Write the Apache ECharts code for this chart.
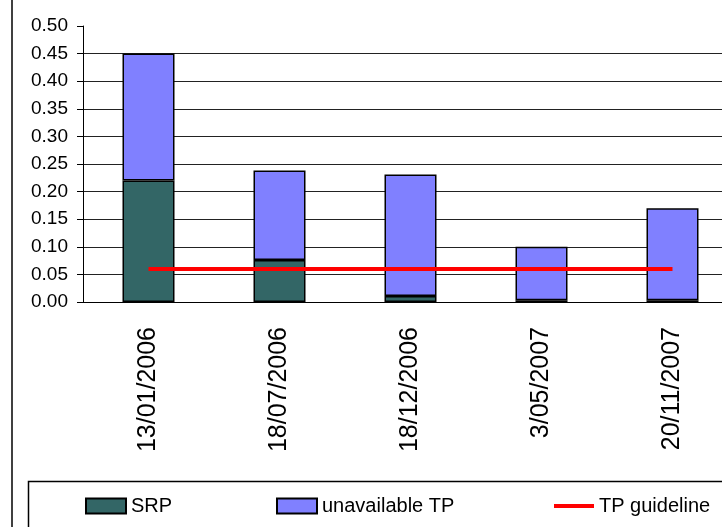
<!DOCTYPE html>
<html>
<head>
    <meta charset="utf-8">
    <title>SRP / TP</title>
    <script src="https://cdn.jsdelivr.net/npm/echarts@6/dist/echarts.min.js"></script>
    <style>
        html, body { margin: 0; padding: 0; background: #fff; }
    </style>
</head>
<body>
    <div id="main" style="width: 722px;height: 527px;"></div>
    <script type="text/javascript">
        // data
        var dates = ['13/01/2006', '18/07/2006', '18/12/2006', '3/05/2007', '20/11/2007'];
        var srp = [0.22, 0.076, 0.011, 0.003, 0.003];
        var unavailableTP = [0.23, 0.162, 0.22, 0.097, 0.167];
        var guideline = [0.06, 0.06, 0.06, 0.06, 0.06];

        var myChart = echarts.init(document.getElementById('main'));
        var font = '"Liberation Sans", Arial, sans-serif';

        // one legend per entry so each sits where the reference puts it
        function legendAt(name, left, icon, h) {
            return {
                left: left,
                top: 491,
                itemWidth: 40,
                itemHeight: h,
                icon: icon,
                textStyle: { fontFamily: font, fontSize: 20, color: '#000' },
                data: [name]
            };
        }

        var option = {
            animation: false,
            backgroundColor: '#fff',
            grid: {
                left: 83,
                top: 26,
                width: 655,
                bottom: 225,
                outerBoundsMode: 'none',
                containLabel: false
            },
            legend: [
                legendAt('SRP', 80, 'rect', 15),
                legendAt('unavailable TP', 271, 'rect', 15),
                legendAt('TP guideline', 549, 'rect', 4)
            ],
            xAxis: {
                type: 'category',
                data: dates,
                axisLine: { lineStyle: { color: '#000', width: 1 } },
                axisTick: { length: 9, lineStyle: { color: '#000' } },
                axisLabel: {
                    rotate: 90,
                    margin: 25,
                    color: '#000',
                    fontFamily: font,
                    fontSize: 25
                }
            },
            yAxis: {
                type: 'value',
                min: 0,
                max: 0.5,
                interval: 0.05,
                axisLine: { show: true, lineStyle: { color: '#000', width: 1 } },
                axisTick: { show: true, length: 6, lineStyle: { color: '#000' } },
                axisLabel: {
                    margin: 15,
                    color: '#000',
                    fontFamily: font,
                    fontSize: 19,
                    formatter: function (v) { return v.toFixed(2); }
                },
                splitLine: {
                    show: true,
                    showMaxLine: false,
                    lineStyle: { color: '#222', width: 1 }
                }
            },
            graphic: [{
                type: 'line',
                shape: { x1: 12, y1: 0, x2: 12, y2: 527 },
                style: { stroke: '#000', lineWidth: 1.5 },
                silent: true
            }, {
                type: 'rect',
                shape: { x: 28.5, y: 481.5, width: 720, height: 100 },
                style: { fill: null, stroke: '#000', lineWidth: 1.5 },
                silent: true
            }],
            series: [{
                name: 'SRP',
                type: 'bar',
                stack: 'total',
                barWidth: 52,
                data: srp,
                itemStyle: { color: '#336666', borderColor: '#000', borderWidth: 1.5 }
            }, {
                name: 'unavailable TP',
                type: 'bar',
                stack: 'total',
                barWidth: 52,
                data: unavailableTP,
                itemStyle: { color: '#8080ff', borderColor: '#000', borderWidth: 1.5 }
            }, {
                name: 'TP guideline',
                type: 'line',
                data: guideline,
                symbol: 'none',
                z: 5,
                lineStyle: { color: '#ff0000', width: 4 },
                itemStyle: { color: '#ff0000', borderWidth: 0 }
            }]
        };

        myChart.setOption(option);
    </script>
</body>
</html>
